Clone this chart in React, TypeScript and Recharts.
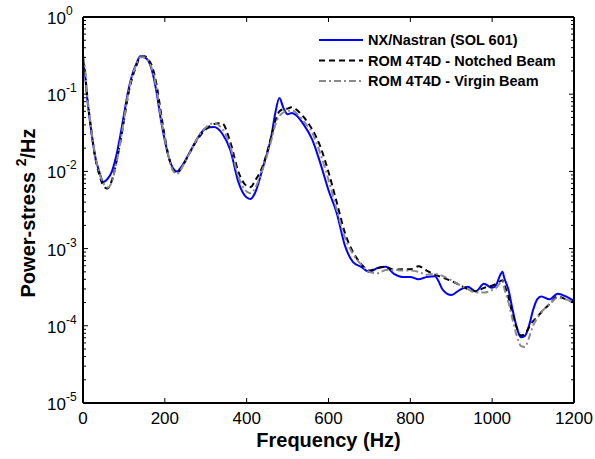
import { Line, LineChart, XAxis, YAxis, Legend, Label } from "recharts";

const FONT = '"Liberation Sans", Arial, sans-serif';

// frequency grid (Hz)
const freq = [
  0, 5, 10, 20, 30, 40, 50, 60, 70, 80, 90, 100, 110, 120, 130, 140, 150, 160, 170, 180, 190, 200, 210, 220, 230, 240,
  260, 280, 300, 320, 340, 360, 380, 400,
  410, 420,
  440,
  460, 470, 480, 490, 500, 510, 520,
  540, 560, 580, 600, 620, 640, 660, 680, 700, 720, 740, 760, 780, 800, 820, 840, 860, 880, 900, 920, 940, 960, 980, 1000,
  1010, 1020, 1025, 1030,
  1040, 1050, 1060, 1070, 1080, 1090, 1100, 1110, 1120,
  1140, 1160, 1180, 1200,
];

const nastran = [
  0.25, 0.18, 0.092, 0.034, 0.0154, 0.0098, 0.0073, 0.008, 0.0098, 0.0149, 0.027, 0.054, 0.107, 0.177, 0.246, 0.31, 0.3, 0.27, 0.19, 0.104, 0.048, 0.025, 0.015, 0.011, 0.01, 0.0114,
  0.0173, 0.027, 0.036, 0.0375, 0.031, 0.019, 0.0072, 0.0046,
  0.0044, 0.0052,
  0.0114,
  0.028, 0.057, 0.089, 0.066, 0.055, 0.057, 0.054,
  0.04, 0.026, 0.0128, 0.0057, 0.0029, 0.0011, 6.7e-4, 5.8e-4, 5.0e-4, 5.6e-4, 5.8e-4, 4.7e-4, 4.3e-4, 4.3e-4, 4.0e-4, 4.3e-4, 4.4e-4, 2.9e-4, 2.5e-4, 2.9e-4, 3.2e-4, 2.8e-4, 3.5e-4, 3.1e-4,
  3.4e-4, 4.6e-4, 5.0e-4, 4.1e-4,
  2.9e-4, 1.6e-4, 9.6e-5, 7.1e-5, 7.4e-5, 1.0e-4, 1.6e-4, 2.2e-4, 2.4e-4,
  2.2e-4, 2.6e-4, 2.4e-4, 2.1e-4,
];

const notched = [
  0.28, 0.19, 0.1, 0.035, 0.015, 0.009, 0.0065, 0.006, 0.0075, 0.012, 0.022, 0.045, 0.095, 0.16, 0.23, 0.3, 0.31, 0.28, 0.22, 0.13, 0.06, 0.028, 0.015, 0.0105, 0.0095, 0.011,
  0.017, 0.026, 0.035, 0.041, 0.042, 0.024, 0.0098, 0.0065,
  0.0063, 0.0075,
  0.012,
  0.028, 0.045, 0.06, 0.064, 0.065, 0.068, 0.064,
  0.05, 0.035, 0.021, 0.0098, 0.0040, 0.0016, 9.0e-4, 6.3e-4, 5.2e-4, 5.6e-4, 5.8e-4, 5.3e-4, 5.4e-4, 5.4e-4, 5.9e-4, 5.2e-4, 4.6e-4, 4.2e-4, 3.8e-4, 3.4e-4, 3.0e-4, 2.8e-4, 3.1e-4, 3.3e-4,
  3.5e-4, 3.8e-4, 3.9e-4, 3.4e-4,
  2.3e-4, 1.4e-4, 9.5e-5, 7.5e-5, 7.8e-5, 9.5e-5, 1.15e-4, 1.3e-4, 1.5e-4,
  1.9e-4, 2.4e-4, 2.2e-4, 2.0e-4,
];

const virgin = [
  0.32, 0.21, 0.1, 0.036, 0.016, 0.0095, 0.007, 0.0062, 0.0072, 0.0115, 0.022, 0.046, 0.1, 0.17, 0.24, 0.3, 0.3, 0.27, 0.2, 0.115, 0.052, 0.026, 0.015, 0.0102, 0.0093, 0.0108,
  0.017, 0.027, 0.037, 0.042, 0.036, 0.021, 0.0085, 0.0055,
  0.0052, 0.006,
  0.011,
  0.025, 0.04, 0.052, 0.058, 0.06, 0.062, 0.058,
  0.044, 0.032, 0.017, 0.0078, 0.0032, 0.0014, 8.5e-4, 6.2e-4, 5.0e-4, 4.8e-4, 5.3e-4, 5.3e-4, 5.2e-4, 5.2e-4, 5.0e-4, 4.6e-4, 4.7e-4, 4.4e-4, 3.9e-4, 3.4e-4, 3.0e-4, 2.7e-4, 2.7e-4, 2.9e-4,
  3.1e-4, 3.6e-4, 3.8e-4, 3.0e-4,
  2.0e-4, 1.2e-4, 7.5e-5, 5.5e-5, 5.3e-5, 7e-5, 1.0e-4, 1.25e-4, 1.5e-4,
  1.9e-4, 2.3e-4, 2.2e-4, 2.0e-4,
];

const xTicks = [0, 200, 400, 600, 800, 1000, 1200];
const yMajor = [1e-5, 1e-4, 1e-3, 1e-2, 1e-1, 1];
const minorMult = [2, 3, 4, 5, 6, 7, 8, 9];

// the virgin-beam curve is bound to the mirrored top/right axes (same domains),
// so recharts draws those axes and the box gets closed
const series = [
  { key: "nastran", name: "NX/Nastran (SOL 601)", color: "#0000ff", dash: undefined, xId: 0, yId: 0 },
  { key: "notched", name: "ROM 4T4D - Notched Beam", color: "#000000", dash: "6 4", xId: 0, yId: 0 },
  { key: "virgin", name: "ROM 4T4D - Virgin Beam", color: "#8a8a8a", dash: "7 3 2 3", xId: "top", yId: "right" },
];

const data = freq.map((f, i) => ({ f, nastran: nastran[i], notched: notched[i], virgin: virgin[i] }));
const yTicks = [
  ...yMajor,
  ...yMajor.slice(0, -1).flatMap((m) => minorMult.map((k) => m * k)),
];

const isMajor = (v: number) => yMajor.includes(v);
const isEdgeX = (v: number) => v === xTicks[0] || v === xTicks[xTicks.length - 1];

function LeftTick(props: any) {
  const { x, y, payload } = props;
  const v = payload.value;
  if (!isMajor(v)) return <line x1={x} x2={x + 3} y1={y} y2={y} stroke="#000" strokeWidth={1} />;
  const exp = Math.round(Math.log10(v));
  return (
    <g>
      <line x1={x} x2={x + 5} y1={y} y2={y} stroke="#000" strokeWidth={1} />
      <text x={x - 36} y={y + 7} fontFamily={FONT} fontSize={17} fill="#000">
        10
        <tspan dy={-9} fontSize={12}>{exp}</tspan>
      </text>
    </g>
  );
}

function RightTick(props: any) {
  const { x, y, payload } = props;
  const len = isMajor(payload.value) ? 5 : 3;
  return <line x1={x} x2={x - len} y1={y} y2={y} stroke="#000" strokeWidth={1} />;
}

function BottomTick(props: any) {
  const { x, y, payload } = props;
  return (
    <g>
      {!isEdgeX(payload.value) && <line x1={x} x2={x} y1={y} y2={y - 5} stroke="#000" strokeWidth={1} />}
      <text x={x} y={y + 21} textAnchor="middle" fontFamily={FONT} fontSize={17} fill="#000">
        {payload.value}
      </text>
    </g>
  );
}

function TopTick(props: any) {
  const { x, y, payload } = props;
  if (isEdgeX(payload.value)) return <g />;
  return <line x1={x} x2={x} y1={y} y2={y + 5} stroke="#000" strokeWidth={1} />;
}

function LegendBox(props: any) {
  const payload = props.payload || [];
  return (
    <svg width={240} height={64}>
      {payload.map((p: any, i: number) => {
        const s = series.find((d) => d.key === p.dataKey) || series[i];
        const cy = 11 + i * 20.5;
        return (
          <g key={s.key}>
            <line x1={4} x2={48} y1={cy} y2={cy} stroke={s.color} strokeWidth={2} strokeDasharray={s.dash} />
            <text x={53} y={cy + 5} fontFamily={FONT} fontSize={14.5} fontWeight="bold" fill="#000">
              {s.name}
            </text>
          </g>
        );
      })}
    </svg>
  );
}

export default function App() {
  return (
    <div style={{ position: "absolute", left: 0, top: 0, width: 595, height: 459, background: "#fff" }}>
      <LineChart width={595} height={459} data={data} margin={{ top: 16, right: 20, bottom: 0, left: 0 }}>
        <XAxis
          dataKey="f"
          type="number"
          domain={[0, 1200]}
          ticks={xTicks}
          interval={0}
          height={56}
          tickSize={0}
          tickMargin={0}
          tickLine={false}
          tick={BottomTick}
          axisLine={{ stroke: "#000", strokeWidth: 2 }}
        >
          <Label
            content={({ viewBox }: any) => (
              <text
                x={viewBox.x + viewBox.width / 2}
                y={viewBox.y + 44}
                textAnchor="middle"
                fontFamily={FONT}
                fontSize={20}
                fontWeight="bold"
                fill="#000"
              >
                Frequency (Hz)
              </text>
            )}
          />
        </XAxis>
        <XAxis
          xAxisId="top"
          orientation="top"
          dataKey="f"
          type="number"
          domain={[0, 1200]}
          ticks={xTicks}
          interval={0}
          height={1}
          tickSize={0}
          tickMargin={0}
          tickLine={false}
          tick={TopTick}
          axisLine={{ stroke: "#000", strokeWidth: 2 }}
        />
        <YAxis
          type="number"
          scale="log"
          domain={[1e-5, 1]}
          allowDataOverflow
          ticks={yTicks}
          interval={0}
          width={83}
          tickSize={0}
          tickMargin={0}
          tickLine={false}
          tick={LeftTick}
          axisLine={{ stroke: "#000", strokeWidth: 2 }}
        >
          <Label
            content={({ viewBox }: any) => (
              <text
                transform={`translate(35, ${viewBox.y + viewBox.height / 2 + 3}) rotate(-90)`}
                textAnchor="middle"
                fontFamily={FONT}
                fontSize={20}
                fontWeight="bold"
                fill="#000"
              >
                Power-stress <tspan dy={-9} fontSize={14}>2</tspan>
                <tspan dy={9}>/Hz</tspan>
              </text>
            )}
          />
        </YAxis>
        <YAxis
          yAxisId="right"
          orientation="right"
          type="number"
          scale="log"
          domain={[1e-5, 1]}
          allowDataOverflow
          ticks={yTicks}
          interval={0}
          width={1}
          tickSize={0}
          tickMargin={0}
          tickLine={false}
          tick={RightTick}
          axisLine={{ stroke: "#000", strokeWidth: 2 }}
        />
        <Legend
          layout="vertical"
          align="center"
          verticalAlign="middle"
          content={LegendBox}
          wrapperStyle={{ position: "absolute", left: 315, top: 29, width: 240, height: 64 }}
        />
        {series.map((s) => (
          <Line
            key={s.key}
            xAxisId={s.xId}
            yAxisId={s.yId}
            type="monotone"
            dataKey={s.key}
            name={s.name}
            stroke={s.color}
            strokeWidth={2}
            strokeDasharray={s.dash}
            dot={false}
            activeDot={false}
            isAnimationActive={false}
          />
        ))}
      </LineChart>
    </div>
  );
}
